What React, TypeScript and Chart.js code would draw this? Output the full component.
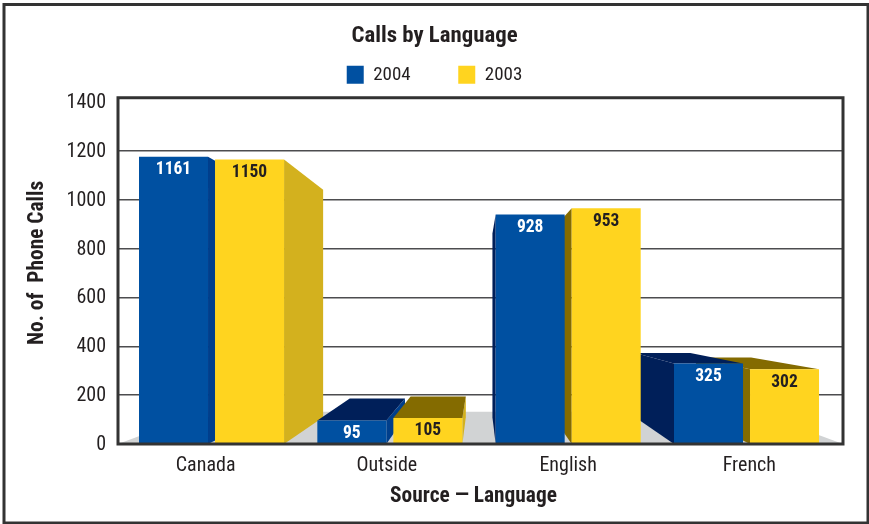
import React, { useEffect, useRef } from "react";
import { Chart, registerables } from "chart.js";

Chart.register(...registerables);

const categories = ["Canada", "Outside", "English", "French"];
const calls2004 = [1161, 95, 928, 325];
const calls2003 = [1150, 105, 953, 302];
const yearLabels = ["2004", "2003"];
const wallTicks = [0, 200, 400, 600, 800, 1000, 1200, 1400];

const NARROW = '"Roboto Condensed", "Liberation Sans", sans-serif';
const INK = "#231f20";
const BLUE = "#0050a1";
const YELLOW = "#ffd41f";

// Shades of each series' solid faces: [right side, left side and top]
const BLUE_SHADES = ["#003f8c", "#001f59"];
const YELLOW_SHADES = ["#d3b11e", "#846b00"];
const FLOOR = "#d1d3d4";

// Perspective: all depth edges run toward one vanishing point
const VANISH_Y = 310;
const BAR_DEPTH = 0.2;
const FLOOR_DEPTH = 0.24;

type Pt = [number, number];

function fillPoly(ctx: CanvasRenderingContext2D, color: string, pts: Pt[]) {
  ctx.fillStyle = color;
  ctx.beginPath();
  pts.forEach(([x, y], i) => (i ? ctx.lineTo(x, y) : ctx.moveTo(x, y)));
  ctx.closePath();
  ctx.fill();
}

const perspective3d = {
  id: "perspective3d",
  beforeDatasetsDraw(chart: any) {
    const { ctx, chartArea: a } = chart;
    const vx = (a.left + a.right) / 2 - 1;
    const back = ([x, y]: Pt, k: number): Pt => [x + (vx - x) * k, y + (VANISH_Y - y) * k];

    ctx.save();
    const fl: Pt = [a.left, a.bottom];
    const fr: Pt = [a.right, a.bottom];
    fillPoly(ctx, FLOOR, [fl, back(fl, FLOOR_DEPTH), back(fr, FLOOR_DEPTH), fr]);

    // Side and top faces go under every front face, outermost bars first
    const faces: { dist: number; draw: () => void }[] = [];
    chart.data.datasets.forEach((_: any, di: number) => {
      const [side, dark] = di === 0 ? BLUE_SHADES : YELLOW_SHADES;
      chart.getDatasetMeta(di).data.forEach((bar: any) => {
        const w = bar.width / 2;
        const L = bar.x - w;
        const R = bar.x + w;
        const T = bar.y;
        const B = bar.base;
        faces.push({
          dist: Math.abs(bar.x - vx),
          draw() {
            if (R < vx)
              fillPoly(ctx, side, [[R, T], back([R, T], BAR_DEPTH), back([R, B], BAR_DEPTH), [R, B]]);
            if (L > vx)
              fillPoly(ctx, dark, [[L, T], back([L, T], BAR_DEPTH), back([L, B], BAR_DEPTH), [L, B]]);
            if (T > VANISH_Y)
              fillPoly(ctx, dark, [[L, T], back([L, T], BAR_DEPTH), back([R, T], BAR_DEPTH), [R, T]]);
          },
        });
      });
    });
    faces.sort((p, q) => q.dist - p.dist).forEach((f) => f.draw());
    ctx.restore();
  },
  afterDatasetsDraw(chart: any) {
    const { ctx, chartArea: a } = chart;
    ctx.save();
    // Value captions inside the bar fronts
    ctx.font = `bold 17.5px ${NARROW}`;
    ctx.textAlign = "center";
    ctx.textBaseline = "middle";
    chart.data.datasets.forEach((ds: any, di: number) => {
      ctx.fillStyle = di === 0 ? "#ffffff" : INK;
      chart.getDatasetMeta(di).data.forEach((bar: any, i: number) => {
        ctx.fillText(String(ds.data[i].y), bar.x, bar.y + 13);
      });
    });
    // Plot frame sits over the bar bases
    ctx.strokeStyle = "#333333";
    ctx.lineWidth = 3;
    ctx.strokeRect(a.left, a.top, a.right - a.left, a.bottom - a.top);
    ctx.restore();
  },
  afterDraw(chart: any) {
    const { ctx, width, height } = chart;
    ctx.save();
    // Outer border
    ctx.strokeStyle = "#333333";
    ctx.lineWidth = 3;
    ctx.strokeRect(4, 4.5, width - 5, height - 5.5);
    // Axis captions
    ctx.fillStyle = INK;
    ctx.font = `bold 21.4px ${NARROW}`;
    ctx.textAlign = "center";
    ctx.textBaseline = "middle";
    ctx.fillText("Source \u2014 Language", 473.5, 497);
    ctx.translate(38, 263);
    ctx.rotate(-Math.PI / 2);
    ctx.fillText("No. of  Phone Calls", 0, 0);
    ctx.restore();
  },
};

export default function App() {
  const ref = useRef<HTMLCanvasElement>(null);
  useEffect(() => {
    document.body.style.margin = "0";
    const toPoints = (vals: number[]) => vals.map((y, x) => ({ x, y }));
    const chart = new Chart(ref.current!, {
      type: "bar",
      data: {
        datasets: [
          { label: yearLabels[0], data: toPoints(calls2004), backgroundColor: BLUE, xAxisID: "barX", yAxisID: "barY" },
          { label: yearLabels[1], data: toPoints(calls2003), backgroundColor: YELLOW, xAxisID: "barX", yAxisID: "barY" },
        ] as any,
      },
      options: {
        animation: false,
        responsive: false,
        categoryPercentage: 0.8525,
        barPercentage: 0.908,
        layout: { padding: { left: 26, right: 26, top: 0, bottom: 0 } },
        plugins: {
          tooltip: { enabled: false },
          title: {
            display: true,
            text: "Calls by Language",
            color: INK,
            font: { family: NARROW, size: 22.8, weight: "bold" },
            padding: { top: 23, bottom: -32.6 },
          },
          // Empty block: a small gap between the legend and the plot
          subtitle: {
            display: true,
            text: "",
            weight: 500,
            font: { size: 2.9 },
            padding: 0,
          },
          legend: {
            display: true,
            position: "top",
            labels: {
              boxWidth: 17,
              boxHeight: 18,
              padding: 47.5,
              color: INK,
              font: { family: NARROW, size: 19 },
            },
          },
        },
        scales: {
          x: {
            type: "category",
            labels: categories,
            offset: true,
            grid: { display: false },
            border: { display: false },
            ticks: { color: INK, labelOffset: -3, padding: 2, font: { family: NARROW, size: 20 } },
            afterFit: (s: any) => { s.height = 80; },
          },
          y: {
            min: 0,
            max: 1418,
            position: "left",
            grid: {
              drawTicks: false,
              lineWidth: 1.5,
              color: (c: any) => (c.tick.value === 0 || c.tick.value === 1400 ? "transparent" : "#4d4d4f"),
            },
            border: { display: false },
            afterBuildTicks: (s: any) => { s.ticks = wallTicks.map((value) => ({ value })); },
            ticks: { padding: 12, labelOffset: 1, color: INK, callback: (v: any) => String(v), font: { family: NARROW, size: 20 } },
            afterFit: (s: any) => { s.width = 92; },
          },
          // Bars sit on the front plane, whose scale differs from the back wall's
          barX: {
            type: "linear",
            display: false,
            offset: false,
            min: -0.5244,
            max: 3.541,
            afterBuildTicks: (s: any) => { s.ticks = categories.map((_, value) => ({ value })); },
          },
          barY: { type: "linear", display: false, min: 0, max: 1400 },
        },
      } as any,
      plugins: [perspective3d],
    });
    return () => chart.destroy();
  }, []);
  return <canvas ref={ref} width={869} height={524} style={{ display: "block" }} />;
}
